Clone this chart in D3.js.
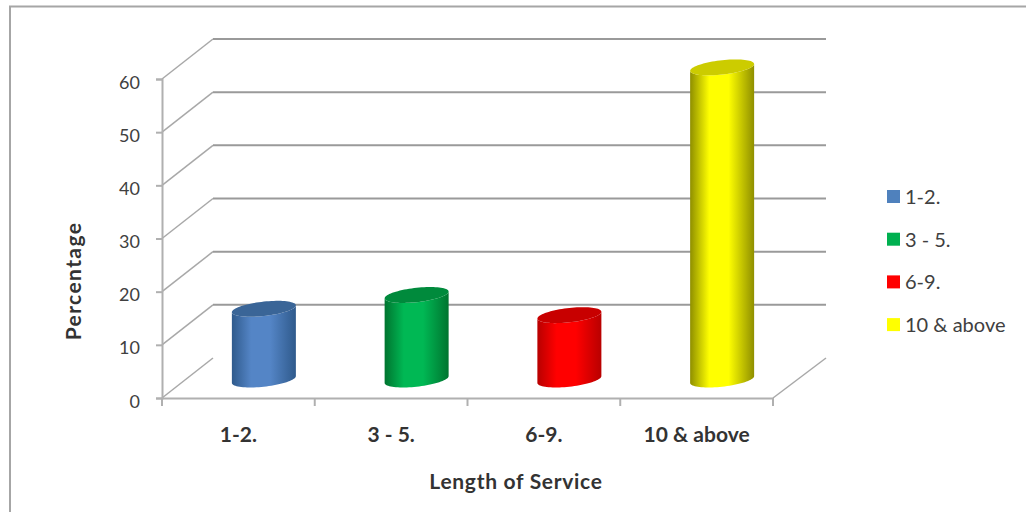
<!DOCTYPE html>
<html>
<head>
<meta charset="utf-8">
<script src="https://cdn.jsdelivr.net/npm/d3@7"></script>
<style>
  html, body { margin: 0; padding: 0; background: #fff; }
  svg { display: block; }
  text { font-family: Lato, "Open Sans", sans-serif; fill: #404040; }
</style>
</head>
<body>
<svg id="chart" width="1026" height="512"></svg>
<script>
// Share of staff by length of service
const categories = ["1-2.", "3 - 5.", "6-9.", "10 & above"];
const percentages = [13.3, 15.9, 12.1, 58.7];
const yTicks = [0, 10, 20, 30, 40, 50, 60];
const axisTitleX = "Length of Service";
const axisTitleY = "Percentage";
const fillMid = ["#5485c6", "#00b854", "#ff0000", "#ffff00"];
const fillEdge = ["#2f5a8c", "#00742f", "#b80000", "#8f8f00"];
const fillTop = ["#3a6597", "#008a3c", "#c80000", "#cccc00"];
const legendFill = ["#4f81bd", "#00b050", "#ff0000", "#ffff00"];

const svg = d3.select("#chart");
const W = 1026, H = 512;

// Frame: only the top and left edges show on the canvas
svg.append("path").attr("d", `M10,${H}V6.5H${W}`)
  .attr("fill", "none").attr("stroke", "#a6a6a6").attr("stroke-width", 2);

// Scales for the front plane of the 3D box
const x = d3.scaleBand().domain(categories).range([162, 773]);
const y = d3.scaleLinear().domain([0, 60]).range([398, 79]);
const depthX = 51, depthY = -40;

const walls = svg.append("g").attr("fill", "none");

// Back wall gridlines and the side wall / floor edges leading to them
walls.selectAll("path.side").data(yTicks).join("path").attr("class", "side")
  .attr("d", d => `M${x.range()[0]},${y(d)}l${depthX},${depthY}`)
  .attr("stroke", "#a8a8a8").attr("stroke-width", 1.5);
walls.selectAll("line.back").data(yTicks.filter(d => d > 0)).join("line").attr("class", "back")
  .attr("x1", x.range()[0] + depthX).attr("x2", x.range()[1] + depthX + 2)
  .attr("y1", d => y(d) + depthY).attr("y2", d => y(d) + depthY)
  .attr("stroke", "#9a9a9a").attr("stroke-width", 2);
walls.append("path")
  .attr("d", `M${x.range()[1]},${y(0)}l${depthX + 2},${depthY}`)
  .attr("stroke", "#a8a8a8").attr("stroke-width", 1.5);

// Axes
const yAxis = d3.axisLeft(y).tickValues(yTicks).tickSize(6).tickPadding(16);
const gy = svg.append("g").attr("transform", `translate(${x.range()[0]},0)`).call(yAxis);
const gx = svg.append("g").attr("transform", `translate(0,${y(0)})`)
  .call(d3.axisBottom(x).tickSize(0).tickPadding(29));

// Tick marks fall on category boundaries rather than band centres
gx.selectAll("line.boundary")
  .data(d3.range(categories.length + 1)).join("line").attr("class", "boundary")
  .attr("x1", i => x.range()[0] + i * x.step()).attr("x2", i => x.range()[0] + i * x.step())
  .attr("y1", 0).attr("y2", 8);
svg.selectAll(".domain, .tick line, line.boundary")
  .attr("stroke", "#b0b0b0").attr("stroke-width", 2);
gy.selectAll("text").attr("dy", "0.5em").style("font-size", "18px").style("font-family", "Lato");
gx.selectAll("text").style("font-size", "21px").style("font-family", "Lato")
  .style("font-weight", 700).style("fill", "#333");

// Cylinders
const defs = svg.append("defs");
categories.forEach((c, i) => {
  const g = defs.append("linearGradient").attr("id", `body${i}`)
    .attr("x1", 0).attr("x2", 1).attr("y1", 0).attr("y2", 0);
  [[0, fillEdge[i]], [0.3, fillMid[i]], [0.6, fillMid[i]], [1, fillEdge[i]]]
    .forEach(([o, col]) => g.append("stop").attr("offset", o).attr("stop-color", col));
});

const rx = 32, ry = 7.2, shear = 3.4, baseDx = 25.5, baseDy = -18.5;
// Point on the tilted rim of a cylinder
const rim = (cx, cy, t) => [cx + rx * Math.cos(t), cy + ry * Math.sin(t) - shear * Math.cos(t)];
const angles = n => d3.range(n + 1).map(k => k / n);
const outline = d3.line();

const bars = svg.append("g").selectAll("g").data(categories).join("g");
bars.append("path")
  .attr("fill", (d, i) => `url(#body${i})`)
  .attr("d", (d, i) => {
    const cx = x(d) + x.bandwidth() / 2 + baseDx;
    const yBase = y(0) + baseDy, yTop = y(percentages[i]) + baseDy;
    const lower = angles(40).map(k => rim(cx, yBase, Math.PI * (1 - k)));
    const upper = angles(40).map(k => rim(cx, yTop, Math.PI * k));
    return outline(lower.concat(upper)) + "Z";
  });
bars.append("path")
  .attr("fill", (d, i) => fillTop[i])
  .attr("d", (d, i) => {
    const cx = x(d) + x.bandwidth() / 2 + baseDx;
    const yTop = y(percentages[i]) + baseDy;
    return outline(angles(80).map(k => rim(cx, yTop, 2 * Math.PI * k))) + "Z";
  });

// Axis titles
svg.append("text").text(axisTitleX).attr("x", 516).attr("y", 489)
  .attr("text-anchor", "middle").style("font-size", "21px").style("font-weight", 700)
  .style("letter-spacing", "0.7px").style("fill", "#333");
svg.append("text").text(axisTitleY).attr("transform", "translate(81,281) rotate(-90)")
  .attr("text-anchor", "middle").style("font-size", "21px").style("font-weight", 700)
  .style("letter-spacing", "1.4px").style("fill", "#333");

// Legend
const legend = svg.append("g").selectAll("g").data(categories).join("g")
  .attr("transform", (d, i) => `translate(887,${190 + i * 42.7})`);
legend.append("rect").attr("width", 13).attr("height", 13).attr("fill", (d, i) => legendFill[i]);
legend.append("text").text(d => d).attr("x", 18).attr("y", 14)
  .style("font-size", "20px");
</script>
</body>
</html>
